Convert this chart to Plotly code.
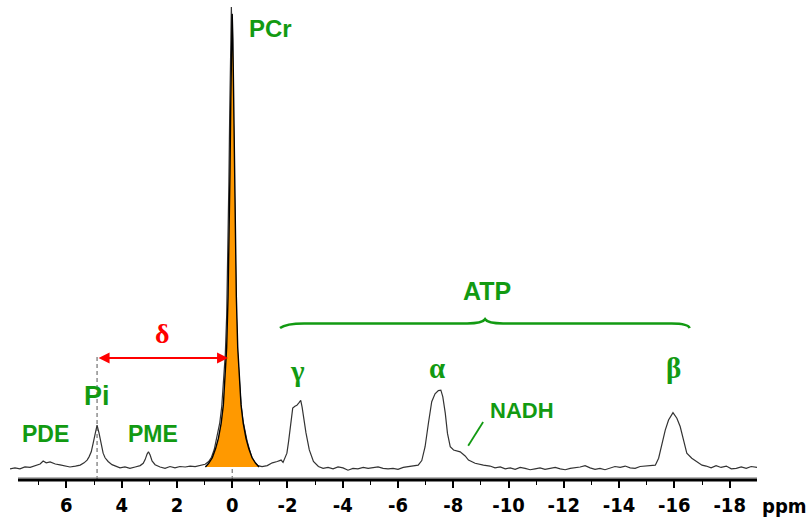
import plotly.graph_objects as go

# 31P MR spectrum (chemical shift in ppm, intensity in a.u., PCr = 100)
spectrum_ppm = [
    8.04, 7.86, 7.68, 7.50, 7.31, 7.13, 6.95, 6.84, 6.73, 6.59, 6.40, 6.23, 6.05, 5.87, 5.67, 5.50,
    5.36, 5.25, 5.18, 5.10, 5.03, 4.96, 4.89, 4.82, 4.74, 4.67, 4.60, 4.49, 4.35, 4.20, 4.06, 3.88,
    3.70, 3.51, 3.33, 3.22, 3.15, 3.08, 3.03, 2.97, 2.90, 2.79, 2.61, 2.43, 2.25, 2.07, 1.89, 1.70,
    1.52, 1.34, 1.16, 0.98, 0.85, 0.75, 0.65, 0.58, 0.50, 0.45, 0.38, 0.30, 0.25, 0.20, 0.16, 0.12,
    0.09, 0.06, 0.03, 0.00, -0.03, -0.06, -0.10, -0.14, -0.19, -0.24, -0.32, -0.39, -0.54, -0.69,
    -0.80, -0.93, -1.08, -1.27, -1.45, -1.63, -1.77, -1.84, -1.98, -2.04, -2.10, -2.19, -2.27, -2.34,
    -2.42, -2.48, -2.53, -2.58, -2.67, -2.79, -2.94, -3.12, -3.29, -3.47, -3.65, -3.83, -4.01, -4.19,
    -4.37, -4.55, -4.74, -4.92, -5.10, -5.28, -5.46, -5.64, -5.82, -6.00, -6.19, -6.37, -6.55, -6.73,
    -6.86, -6.98, -7.10, -7.22, -7.34, -7.46, -7.55, -7.62, -7.71, -7.79, -7.89, -8.01, -8.25, -8.43,
    -8.55, -8.79, -9.09, -9.33, -9.51, -9.70, -9.88, -10.06, -10.24, -10.42, -10.60, -10.78, -10.96,
    -11.14, -11.32, -11.51, -11.69, -11.87, -12.05, -12.23, -12.41, -12.59, -12.77, -12.95, -13.13,
    -13.31, -13.49, -13.67, -13.85, -14.04, -14.22, -14.40, -14.58, -14.76, -14.94, -15.12, -15.31,
    -15.43, -15.55, -15.67, -15.79, -15.95, -16.09, -16.21, -16.33, -16.45, -16.63, -16.82, -17.00,
    -17.15, -17.33, -17.51, -17.69, -17.88, -18.06, -18.24, -18.42, -18.60, -18.78, -18.99,
]
spectrum_int = [
    -0.4, -0.2, -0.4, 0.0, -0.1, 0.2, 0.65, 1.3, 0.9, 1.1, 0.65, 0.45, 0.2, 0.0, 0.2, 0.4,
    0.9, 1.5, 2.2, 3.3, 5.2, 7.6, 9.1, 7.4, 4.8, 3.0, 2.0, 1.2, 0.5, 0.1, -0.2, 0.0,
    -0.3, 0.0, 0.3, 0.8, 1.6, 2.8, 3.3, 2.6, 1.3, 0.5, 0.0, -0.3, 0.1, -0.2, 0.1, 0.0,
    0.2, 0.1, 0.3, 0.6, 1.2, 2.1, 3.8, 5.6, 7.6, 9.6, 13.0, 19.0, 24.5, 33.0, 45.0, 62.0,
    77.0, 91.0, 100.0, 93.0, 80.0, 64.0, 47.0, 35.0, 25.0, 19.5, 13.5, 10.0, 5.6, 2.4,
    1.1, 0.3, 0.1, 0.3, 0.9, 1.2, 1.5, 1.0, 3.0, 5.5, 8.0, 12.8, 13.2, 13.4,
    14.0, 14.5, 13.0, 10.9, 7.4, 3.7, 1.2, 0.1, -0.3, -0.1, -0.4, 0.0, -0.2, -0.7,
    -0.3, -0.4, -0.1, -0.3, -0.2, 0.0, -0.3, -0.4, -0.3, -0.5, -0.1, 0.1, 0.2, 0.4,
    1.4, 4.4, 9.5, 14.2, 15.9, 16.6, 16.7, 15.3, 11.7, 7.3, 4.4, 3.7, 3.3, 2.4,
    1.5, 0.8, 0.4, 0.2, -0.2, 0.0, -0.4, -0.2, -0.5, -0.1, -0.3, -0.6, -0.4,
    -0.2, -0.5, -0.3, -0.1, -0.4, -0.6, -0.3, -0.2, 0.0, 0.3, -0.2, -0.5,
    -0.3, -0.6, -0.2, 0.1, -0.1, 0.2, -0.2, -0.3, 0.1, 0.2, 0.4, 0.4,
    1.9, 5.2, 8.0, 10.2, 11.8, 10.6, 8.8, 5.9, 3.0, 1.9, 1.2, 0.4,
    0.2, -0.2, 0.3, -0.1, 0.2, -0.4, -0.3, 0.0, -0.3, 0.1, -0.1,
]

# Fitted PCr line shape (shaded area)
pcr_fit_ppm = [0.97, 0.85, 0.72, 0.60, 0.50, 0.40, 0.32, 0.25, 0.20, 0.15, 0.11, 0.08, 0.05, 0.025,
               0.0, -0.025, -0.05, -0.08, -0.11, -0.15, -0.20, -0.25, -0.32, -0.40, -0.50, -0.60,
               -0.72, -0.85, -0.97]
pcr_fit_int = [0.0, 0.8, 2.0, 4.0, 6.2, 9.5, 13.5, 19.5, 26.0, 37.0, 50.0, 64.0, 80.0, 93.0,
               98.5, 93.0, 80.0, 64.0, 50.0, 37.0, 26.0, 19.5, 13.5, 9.5, 6.2, 4.0,
               2.0, 0.8, 0.0]

# Peak assignments
pi_ppm = 4.89
pcr_ppm = 0.0
metabolite_names = ["PCr", "Pi", "PDE", "PME", "NADH", "ATP"]
metabolite_ppm = [-1.38, 4.89, 6.74, 2.86, -10.49, -9.22]
metabolite_int = [95.4, 15.4, 7.2, 7.2, 12.2, 38.3]
metabolite_size = [24, 27, 23, 23, 22, 25]
atp_names = ["γ", "α", "β"]
atp_ppm = [-2.35, -7.42, -15.96]
atp_int = [20.9, 21.5, 21.5]

# Axis ticks
tick_values = [6, 4, 2, 0, -2, -4, -6, -8, -10, -12, -14, -16, -18]
tick_labels = [f"<b>{v}</b>" for v in tick_values]
minor_tick_values = [7, 5, 3, 1, -1, -3, -5, -7, -9, -11, -13, -15, -17]

GREEN = "#129a12"
RED = "#ff0000"
AXIS_FONT = "DejaVu Sans Condensed, Liberation Sans, sans-serif"

# plot-area geometry (px)
PLOT_L, PLOT_R, PLOT_T, PLOT_B = 10, 757, 0, 480

fig = go.Figure()

fig.add_trace(go.Scatter(
    x=spectrum_ppm, y=spectrum_int, mode="lines",
    line=dict(color="#333333", width=1.2), hoverinfo="skip", showlegend=False,
))
fig.add_trace(go.Scatter(
    x=pcr_fit_ppm, y=pcr_fit_int, mode="lines", fill="tozeroy",
    fillcolor="#ff9900", line=dict(color="#000000", width=1.4),
    hoverinfo="skip", showlegend=False,
))

shapes = []
# chemical shift guides
arrow_level = 23.7
shapes.append(dict(type="line", xref="x", yref="y", x0=pi_ppm, x1=pi_ppm, y0=-2.83, y1=arrow_level + 0.8,
                   line=dict(color="#555555", width=1, dash="4px,3px"), layer="below"))
shapes.append(dict(type="line", xref="x", yref="y", x0=pcr_ppm, x1=pcr_ppm, y0=-2.83, y1=arrow_level,
                   line=dict(color="#555555", width=1, dash="4px,3px"), layer="below"))
# ATP brace
shapes.append(dict(
    type="path", xref="x", yref="y",
    path=("M -1.73,30.2 Q -1.95,31.2 -2.6,31.2 L -8.5,31.2 Q -9.05,31.2 -9.15,32.1 "
          "Q -9.25,31.2 -9.8,31.2 L -15.9,31.2 Q -16.5,31.2 -16.55,30.2"),
    line=dict(color=GREEN, width=2.6),
))
# NADH pointer
shapes.append(dict(type="line", xref="x", yref="y", x0=-8.54, y0=4.6, x1=-9.08, y1=9.8,
                   line=dict(color=GREEN, width=1.8)))
# axis baseline
shapes.append(dict(type="line", xref="x", yref="y", x0=7.75, x1=-19.0, y0=-2.35, y1=-2.35,
                   line=dict(color="#9a9a9a", width=1)))
shapes.append(dict(type="line", xref="x", yref="paper", x0=7.75, x1=-19.0, y0=0, y1=0,
                   line=dict(color="#000000", width=3)))

annotations = []
for name, px, py, sz in zip(metabolite_names, metabolite_ppm, metabolite_int, metabolite_size):
    annotations.append(dict(x=px, y=py, xref="x", yref="y", text=f"<b>{name}</b>", showarrow=False,
                            font=dict(family="Liberation Sans", size=sz, color=GREEN)))
for name, px, py in zip(atp_names, atp_ppm, atp_int):
    annotations.append(dict(x=px, y=py, xref="x", yref="y", text=f"<b>{name}</b>", showarrow=False,
                            font=dict(family="Liberation Serif", size=29, color=GREEN)))
# delta: Pi – PCr shift
annotations.append(dict(x=0.15, y=arrow_level, ax=pi_ppm, ay=arrow_level, xref="x", yref="y",
                        axref="x", ayref="y", text="", showarrow=True, arrowhead=2, arrowside="end+start",
                        arrowsize=1.1, arrowwidth=2, arrowcolor=RED))
annotations.append(dict(x=2.54, y=29.1, xref="x", yref="y", text="<b>δ</b>", showarrow=False,
                        font=dict(family="Liberation Serif", size=28, color=RED)))
# unit label to the right of the axis
annotations.append(dict(
    x=(784 - PLOT_L) / (PLOT_R - PLOT_L), y=(PLOT_B - 506) / (PLOT_B - PLOT_T),
    xref="paper", yref="paper", xanchor="center", yanchor="middle",
    text="<b>ppm</b>", showarrow=False,
    font=dict(family=AXIS_FONT, size=20, color="#000000"),
))

fig.update_layout(
    width=806, height=520,
    margin=dict(l=PLOT_L, r=806 - PLOT_R, t=PLOT_T, b=520 - PLOT_B),
    paper_bgcolor="white", plot_bgcolor="white",
    shapes=shapes, annotations=annotations,
    xaxis=dict(
        range=[8.04, -18.99], showgrid=False, zeroline=False, showline=False,
        tickmode="array", tickvals=tick_values, ticktext=tick_labels,
        ticks="outside", ticklen=7, tickwidth=1.5, tickcolor="#000000",
        ticklabelstandoff=0,
        tickfont=dict(family=AXIS_FONT, size=20, color="#000000"),
        minor=dict(tickmode="array", tickvals=minor_tick_values, ticks="outside", ticklen=4,
                   tickwidth=1.2, tickcolor="#000000"),
    ),
    yaxis=dict(range=[-2.83, 101.52], visible=False),
)

fig.write_html("out.html")
